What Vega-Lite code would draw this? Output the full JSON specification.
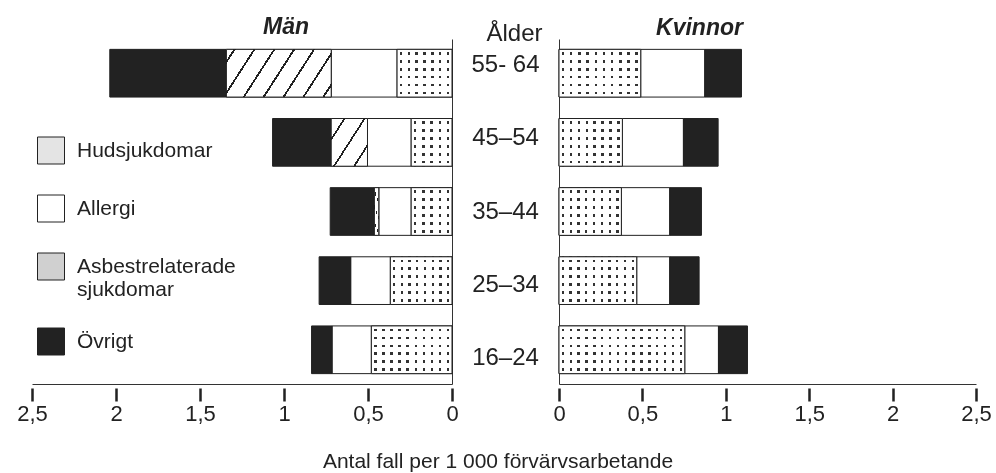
{
  "$schema": "https://vega.github.io/schema/vega-lite/v6.json",
  "background": "white",
  "padding": {"left": 16, "top": 16, "right": 5, "bottom": 5},
  "datasets": {
    "bars": [
      {"kon": "Män", "age": "55-64", "cat": "Hudsjukdomar", "order": 1, "value": 0.327},
      {"kon": "Män", "age": "55-64", "cat": "Allergi", "order": 2, "value": 0.392},
      {"kon": "Män", "age": "55-64", "cat": "Asbestrelaterade sjukdomar", "order": 3, "value": 0.624},
      {"kon": "Män", "age": "55-64", "cat": "Övrigt", "order": 4, "value": 0.694},
      {"kon": "Män", "age": "45-54", "cat": "Hudsjukdomar", "order": 1, "value": 0.243},
      {"kon": "Män", "age": "45-54", "cat": "Allergi", "order": 2, "value": 0.26},
      {"kon": "Män", "age": "45-54", "cat": "Asbestrelaterade sjukdomar", "order": 3, "value": 0.216},
      {"kon": "Män", "age": "45-54", "cat": "Övrigt", "order": 4, "value": 0.349},
      {"kon": "Män", "age": "35-44", "cat": "Hudsjukdomar", "order": 1, "value": 0.243},
      {"kon": "Män", "age": "35-44", "cat": "Allergi", "order": 2, "value": 0.193},
      {"kon": "Män", "age": "35-44", "cat": "Asbestrelaterade sjukdomar", "order": 3, "value": 0.026},
      {"kon": "Män", "age": "35-44", "cat": "Övrigt", "order": 4, "value": 0.263},
      {"kon": "Män", "age": "25-34", "cat": "Hudsjukdomar", "order": 1, "value": 0.367},
      {"kon": "Män", "age": "25-34", "cat": "Allergi", "order": 2, "value": 0.236},
      {"kon": "Män", "age": "25-34", "cat": "Övrigt", "order": 4, "value": 0.188},
      {"kon": "Män", "age": "16-24", "cat": "Hudsjukdomar", "order": 1, "value": 0.48},
      {"kon": "Män", "age": "16-24", "cat": "Allergi", "order": 2, "value": 0.234},
      {"kon": "Män", "age": "16-24", "cat": "Övrigt", "order": 4, "value": 0.122},
      {"kon": "Kvinnor", "age": "55-64", "cat": "Hudsjukdomar", "order": 1, "value": 0.49},
      {"kon": "Kvinnor", "age": "55-64", "cat": "Allergi", "order": 2, "value": 0.384},
      {"kon": "Kvinnor", "age": "55-64", "cat": "Övrigt", "order": 4, "value": 0.22},
      {"kon": "Kvinnor", "age": "45-54", "cat": "Hudsjukdomar", "order": 1, "value": 0.38},
      {"kon": "Kvinnor", "age": "45-54", "cat": "Allergi", "order": 2, "value": 0.366},
      {"kon": "Kvinnor", "age": "45-54", "cat": "Övrigt", "order": 4, "value": 0.208},
      {"kon": "Kvinnor", "age": "35-44", "cat": "Hudsjukdomar", "order": 1, "value": 0.374},
      {"kon": "Kvinnor", "age": "35-44", "cat": "Allergi", "order": 2, "value": 0.29},
      {"kon": "Kvinnor", "age": "35-44", "cat": "Övrigt", "order": 4, "value": 0.19},
      {"kon": "Kvinnor", "age": "25-34", "cat": "Hudsjukdomar", "order": 1, "value": 0.466},
      {"kon": "Kvinnor", "age": "25-34", "cat": "Allergi", "order": 2, "value": 0.198},
      {"kon": "Kvinnor", "age": "25-34", "cat": "Övrigt", "order": 4, "value": 0.176},
      {"kon": "Kvinnor", "age": "16-24", "cat": "Hudsjukdomar", "order": 1, "value": 0.754},
      {"kon": "Kvinnor", "age": "16-24", "cat": "Allergi", "order": 2, "value": 0.202},
      {"kon": "Kvinnor", "age": "16-24", "cat": "Övrigt", "order": 4, "value": 0.174}
    ],
    "ages": [
      {"age": "55-64", "label": "55- 64"},
      {"age": "45-54", "label": "45–54"},
      {"age": "35-44", "label": "35–44"},
      {"age": "25-34", "label": "25–34"},
      {"age": "16-24", "label": "16–24"}
    ]
  },
  "spacing": 0,
  "bounds": "flush",
  "title": {
    "text": "Antal fall per 1 000 förvärvsarbetande",
    "orient": "bottom",
    "anchor": "middle",
    "fontSize": 21,
    "fontWeight": "normal",
    "font": "Liberation Sans",
    "color": "#222",
    "offset": 27,
    "dx": -6
  },
  "resolve": {
    "scale": {"x": "independent", "y": "independent", "fill": "independent"},
    "legend": {"fill": "independent"}
  },
  "hconcat": [
    {
      "width": 420,
      "height": 345,
      "data": {"name": "bars"},
      "title": {"text": "Män", "fontStyle": "italic", "fontWeight": "bold", "fontSize": 23, "font": "Liberation Sans", "color": "#222", "anchor": "middle", "dx": 44, "baseline": "alphabetic", "offset": -18},
      "transform": [
        {"filter": "datum.kon == 'Män'"},
        {"stack": "value", "groupby": ["age"], "sort": [{"field": "order", "order": "ascending"}], "as": ["v0", "v1"]}
      ],
      "encoding": {
        "y": {"field": "age", "type": "nominal", "sort": ["55-64", "45-54", "35-44", "25-34", "16-24"],
              "scale": {"paddingInner": 0.31, "paddingOuter": 0.15},
              "axis": {"orient": "right", "labels": false, "ticks": false, "title": null, "domain": true, "domainColor": "#333", "grid": false}},
        "x": {"field": "v0", "type": "quantitative", "scale": {"domain": [0, 2.5], "reverse": true, "nice": false, "zero": true},
              "axis": {"values": [0, 0.5, 1, 1.5, 2, 2.5], "format": "~g", "labelExpr": "replace(datum.label, '.', ',')", "title": null, "grid": false,
                       "domainColor": "#333", "tickColor": "#222", "tickWidth": 2.5, "tickSize": 17, "tickDash": [0, 4, 13, 100],
                       "labelFontSize": 22, "labelPadding": 2, "labelColor": "#222", "labelFont": "Liberation Sans", "labelFlush": false, "labelOverlap": false}},
        "x2": {"field": "v1"}
      },
      "layer": [
        {
          "mark": {"type": "bar", "stroke": "#222", "strokeWidth": 1},
          "encoding": {
            "fill": {"field": "cat", "type": "nominal",
                     "scale": {"domain": ["Hudsjukdomar", "Allergi", "Asbestrelaterade sjukdomar", "Övrigt"],
                               "range": ["#e4e4e4", "#ffffff", "#d0d0d0", "#222222"]},
                     "legend": {"orient": "none", "legendX": 5, "legendY": 97.5, "title": null, "symbolType": "square", "symbolSize": 729,
                                "symbolStrokeColor": "#222", "symbolStrokeWidth": 1, "labelFontSize": 21, "labelFont": "Liberation Sans", "labelColor": "#222",
                                "labelOffset": 12, "rowPadding": 26, "labelLimit": 0, "padding": 0,
                                "labelExpr": "datum.label == 'Asbestrelaterade sjukdomar' ? ['Asbestrelaterade', 'sjukdomar'] : datum.label"}}
          }
        },
        {
          "transform": [{"filter": "datum.cat == 'Asbestrelaterade sjukdomar' && datum.age == '55-64'"}],
          "mark": {"type": "bar", "stroke": "#222", "strokeWidth": 1,
                   "fill": {"gradient": "linear", "x1": 0, "y1": 0, "x2": 1.19, "y2": 0.348,
                            "stops": [
                              {"offset": 0, "color": "#ffffff"},
                              {"offset": 0.052, "color": "#ffffff"}, {"offset": 0.052, "color": "#222222"}, {"offset": 0.068, "color": "#222222"}, {"offset": 0.068, "color": "#ffffff"},
                              {"offset": 0.199, "color": "#ffffff"}, {"offset": 0.199, "color": "#222222"}, {"offset": 0.215, "color": "#222222"}, {"offset": 0.215, "color": "#ffffff"},
                              {"offset": 0.346, "color": "#ffffff"}, {"offset": 0.346, "color": "#222222"}, {"offset": 0.362, "color": "#222222"}, {"offset": 0.362, "color": "#ffffff"},
                              {"offset": 0.493, "color": "#ffffff"}, {"offset": 0.493, "color": "#222222"}, {"offset": 0.509, "color": "#222222"}, {"offset": 0.509, "color": "#ffffff"},
                              {"offset": 0.640, "color": "#ffffff"}, {"offset": 0.640, "color": "#222222"}, {"offset": 0.656, "color": "#222222"}, {"offset": 0.656, "color": "#ffffff"},
                              {"offset": 0.787, "color": "#ffffff"}, {"offset": 0.787, "color": "#222222"}, {"offset": 0.803, "color": "#222222"}, {"offset": 0.803, "color": "#ffffff"},
                              {"offset": 0.934, "color": "#ffffff"}, {"offset": 0.934, "color": "#222222"}, {"offset": 0.950, "color": "#222222"}, {"offset": 0.950, "color": "#ffffff"},
                              {"offset": 1, "color": "#ffffff"}
                            ]}}
        },
        {
          "transform": [{"filter": "datum.cat == 'Asbestrelaterade sjukdomar' && datum.age != '55-64'"}],
          "mark": {"type": "bar", "stroke": "#222", "strokeWidth": 1,
                   "fill": {"gradient": "linear", "x1": 0, "y1": 0, "x2": 1.0765, "y2": 0.9096,
                            "stops": [
                              {"offset": 0, "color": "#ffffff"},
                              {"offset": 0.185, "color": "#ffffff"}, {"offset": 0.185, "color": "#222222"}, {"offset": 0.215, "color": "#222222"}, {"offset": 0.215, "color": "#ffffff"},
                              {"offset": 0.485, "color": "#ffffff"}, {"offset": 0.485, "color": "#222222"}, {"offset": 0.515, "color": "#222222"}, {"offset": 0.515, "color": "#ffffff"},
                              {"offset": 0.785, "color": "#ffffff"}, {"offset": 0.785, "color": "#222222"}, {"offset": 0.815, "color": "#222222"}, {"offset": 0.815, "color": "#ffffff"},
                              {"offset": 1, "color": "#ffffff"}
                            ]}}
        },
        {
          "transform": [{"filter": "datum.cat == 'Hudsjukdomar' && datum.age == '55-64'"}],
          "mark": {"type": "bar", "stroke": "#222", "strokeWidth": 1,
                   "fill": {"gradient": "linear", "x1": 0, "y1": 0, "x2": 1, "y2": 0,
                            "stops": [
                              {"offset": 0, "color": "#ffffff"},
                              {"offset": 0.049, "color": "#ffffff"}, {"offset": 0.049, "color": "#333333"}, {"offset": 0.093, "color": "#333333"}, {"offset": 0.093, "color": "#ffffff"},
                              {"offset": 0.192, "color": "#ffffff"}, {"offset": 0.192, "color": "#333333"}, {"offset": 0.236, "color": "#333333"}, {"offset": 0.236, "color": "#ffffff"},
                              {"offset": 0.335, "color": "#ffffff"}, {"offset": 0.335, "color": "#333333"}, {"offset": 0.379, "color": "#333333"}, {"offset": 0.379, "color": "#ffffff"},
                              {"offset": 0.478, "color": "#ffffff"}, {"offset": 0.478, "color": "#333333"}, {"offset": 0.522, "color": "#333333"}, {"offset": 0.522, "color": "#ffffff"},
                              {"offset": 0.621, "color": "#ffffff"}, {"offset": 0.621, "color": "#333333"}, {"offset": 0.665, "color": "#333333"}, {"offset": 0.665, "color": "#ffffff"},
                              {"offset": 0.764, "color": "#ffffff"}, {"offset": 0.764, "color": "#333333"}, {"offset": 0.808, "color": "#333333"}, {"offset": 0.808, "color": "#ffffff"},
                              {"offset": 0.907, "color": "#ffffff"}, {"offset": 0.907, "color": "#333333"}, {"offset": 0.951, "color": "#333333"}, {"offset": 0.951, "color": "#ffffff"},
                              {"offset": 1, "color": "#ffffff"}
                            ]}}
        },
        {
          "transform": [{"filter": "datum.cat == 'Hudsjukdomar' && (datum.age == '45-54' || datum.age == '35-44')"}],
          "mark": {"type": "bar", "stroke": "#222", "strokeWidth": 1,
                   "fill": {"gradient": "linear", "x1": 0, "y1": 0, "x2": 1, "y2": 0,
                            "stops": [
                              {"offset": 0, "color": "#ffffff"},
                              {"offset": 0.071, "color": "#ffffff"}, {"offset": 0.071, "color": "#333333"}, {"offset": 0.129, "color": "#333333"}, {"offset": 0.129, "color": "#ffffff"},
                              {"offset": 0.271, "color": "#ffffff"}, {"offset": 0.271, "color": "#333333"}, {"offset": 0.329, "color": "#333333"}, {"offset": 0.329, "color": "#ffffff"},
                              {"offset": 0.471, "color": "#ffffff"}, {"offset": 0.471, "color": "#333333"}, {"offset": 0.529, "color": "#333333"}, {"offset": 0.529, "color": "#ffffff"},
                              {"offset": 0.671, "color": "#ffffff"}, {"offset": 0.671, "color": "#333333"}, {"offset": 0.729, "color": "#333333"}, {"offset": 0.729, "color": "#ffffff"},
                              {"offset": 0.871, "color": "#ffffff"}, {"offset": 0.871, "color": "#333333"}, {"offset": 0.929, "color": "#333333"}, {"offset": 0.929, "color": "#ffffff"},
                              {"offset": 1, "color": "#ffffff"}
                            ]}}
        },
        {
          "transform": [{"filter": "datum.cat == 'Hudsjukdomar' && datum.age == '25-34'"}],
          "mark": {"type": "bar", "stroke": "#222", "strokeWidth": 1,
                   "fill": {"gradient": "linear", "x1": 0, "y1": 0, "x2": 1, "y2": 0,
                            "stops": [
                              {"offset": 0, "color": "#ffffff"},
                              {"offset": 0.044, "color": "#ffffff"}, {"offset": 0.044, "color": "#333333"}, {"offset": 0.081, "color": "#333333"}, {"offset": 0.081, "color": "#ffffff"},
                              {"offset": 0.169, "color": "#ffffff"}, {"offset": 0.169, "color": "#333333"}, {"offset": 0.206, "color": "#333333"}, {"offset": 0.206, "color": "#ffffff"},
                              {"offset": 0.294, "color": "#ffffff"}, {"offset": 0.294, "color": "#333333"}, {"offset": 0.331, "color": "#333333"}, {"offset": 0.331, "color": "#ffffff"},
                              {"offset": 0.419, "color": "#ffffff"}, {"offset": 0.419, "color": "#333333"}, {"offset": 0.456, "color": "#333333"}, {"offset": 0.456, "color": "#ffffff"},
                              {"offset": 0.544, "color": "#ffffff"}, {"offset": 0.544, "color": "#333333"}, {"offset": 0.581, "color": "#333333"}, {"offset": 0.581, "color": "#ffffff"},
                              {"offset": 0.669, "color": "#ffffff"}, {"offset": 0.669, "color": "#333333"}, {"offset": 0.706, "color": "#333333"}, {"offset": 0.706, "color": "#ffffff"},
                              {"offset": 0.794, "color": "#ffffff"}, {"offset": 0.794, "color": "#333333"}, {"offset": 0.831, "color": "#333333"}, {"offset": 0.831, "color": "#ffffff"},
                              {"offset": 0.919, "color": "#ffffff"}, {"offset": 0.919, "color": "#333333"}, {"offset": 0.956, "color": "#333333"}, {"offset": 0.956, "color": "#ffffff"},
                              {"offset": 1, "color": "#ffffff"}
                            ]}}
        },
        {
          "transform": [{"filter": "datum.cat == 'Hudsjukdomar' && datum.age == '16-24'"}],
          "mark": {"type": "bar", "stroke": "#222", "strokeWidth": 1,
                   "fill": {"gradient": "linear", "x1": 0, "y1": 0, "x2": 1, "y2": 0,
                            "stops": [
                              {"offset": 0, "color": "#ffffff"},
                              {"offset": 0.035, "color": "#ffffff"}, {"offset": 0.035, "color": "#333333"}, {"offset": 0.065, "color": "#333333"}, {"offset": 0.065, "color": "#ffffff"},
                              {"offset": 0.135, "color": "#ffffff"}, {"offset": 0.135, "color": "#333333"}, {"offset": 0.165, "color": "#333333"}, {"offset": 0.165, "color": "#ffffff"},
                              {"offset": 0.235, "color": "#ffffff"}, {"offset": 0.235, "color": "#333333"}, {"offset": 0.265, "color": "#333333"}, {"offset": 0.265, "color": "#ffffff"},
                              {"offset": 0.335, "color": "#ffffff"}, {"offset": 0.335, "color": "#333333"}, {"offset": 0.365, "color": "#333333"}, {"offset": 0.365, "color": "#ffffff"},
                              {"offset": 0.435, "color": "#ffffff"}, {"offset": 0.435, "color": "#333333"}, {"offset": 0.465, "color": "#333333"}, {"offset": 0.465, "color": "#ffffff"},
                              {"offset": 0.535, "color": "#ffffff"}, {"offset": 0.535, "color": "#333333"}, {"offset": 0.565, "color": "#333333"}, {"offset": 0.565, "color": "#ffffff"},
                              {"offset": 0.635, "color": "#ffffff"}, {"offset": 0.635, "color": "#333333"}, {"offset": 0.665, "color": "#333333"}, {"offset": 0.665, "color": "#ffffff"},
                              {"offset": 0.735, "color": "#ffffff"}, {"offset": 0.735, "color": "#333333"}, {"offset": 0.765, "color": "#333333"}, {"offset": 0.765, "color": "#ffffff"},
                              {"offset": 0.835, "color": "#ffffff"}, {"offset": 0.835, "color": "#333333"}, {"offset": 0.865, "color": "#333333"}, {"offset": 0.865, "color": "#ffffff"},
                              {"offset": 0.935, "color": "#ffffff"}, {"offset": 0.935, "color": "#333333"}, {"offset": 0.965, "color": "#333333"}, {"offset": 0.965, "color": "#ffffff"},
                              {"offset": 1, "color": "#ffffff"}
                            ]}}
        },
        {
          "transform": [{"filter": "datum.cat == 'Hudsjukdomar'"}],
          "mark": {"type": "bar", "stroke": "#222", "strokeWidth": 1, "blend": "lighten",
                   "fill": {"gradient": "linear", "x1": 0, "y1": 0, "x2": 0, "y2": 1,
                            "stops": [
                              {"offset": 0, "color": "#ffffff"},
                              {"offset": 0.057, "color": "#ffffff"}, {"offset": 0.057, "color": "#333333"}, {"offset": 0.109, "color": "#333333"}, {"offset": 0.109, "color": "#ffffff"},
                              {"offset": 0.224, "color": "#ffffff"}, {"offset": 0.224, "color": "#333333"}, {"offset": 0.276, "color": "#333333"}, {"offset": 0.276, "color": "#ffffff"},
                              {"offset": 0.391, "color": "#ffffff"}, {"offset": 0.391, "color": "#333333"}, {"offset": 0.443, "color": "#333333"}, {"offset": 0.443, "color": "#ffffff"},
                              {"offset": 0.557, "color": "#ffffff"}, {"offset": 0.557, "color": "#333333"}, {"offset": 0.609, "color": "#333333"}, {"offset": 0.609, "color": "#ffffff"},
                              {"offset": 0.724, "color": "#ffffff"}, {"offset": 0.724, "color": "#333333"}, {"offset": 0.776, "color": "#333333"}, {"offset": 0.776, "color": "#ffffff"},
                              {"offset": 0.891, "color": "#ffffff"}, {"offset": 0.891, "color": "#333333"}, {"offset": 0.943, "color": "#333333"}, {"offset": 0.943, "color": "#ffffff"},
                              {"offset": 1, "color": "#ffffff"}
                            ]}}
        }
      ]
    },
    {
      "width": 107,
      "height": 345,
      "data": {"name": "ages"},
      "title": {"text": "Ålder", "fontWeight": "normal", "fontSize": 24, "font": "Liberation Sans", "color": "#222", "anchor": "middle", "dx": 9, "baseline": "alphabetic", "offset": -26},
      "mark": {"type": "text", "fontSize": 24, "font": "Liberation Sans", "color": "#222", "baseline": "middle", "align": "center"},
      "encoding": {
        "y": {"field": "age", "type": "ordinal", "sort": ["55-64", "45-54", "35-44", "25-34", "16-24"], "scale": {"type": "point", "padding": 0.363}, "axis": null},
        "text": {"field": "label"}
      }
    },
    {
      "width": 417,
      "height": 345,
      "data": {"name": "bars"},
      "title": {"text": "Kvinnor", "fontStyle": "italic", "fontWeight": "bold", "fontSize": 23, "font": "Liberation Sans", "color": "#222", "anchor": "middle", "dx": -68, "baseline": "alphabetic", "offset": -19},
      "transform": [
        {"filter": "datum.kon == 'Kvinnor'"},
        {"stack": "value", "groupby": ["age"], "sort": [{"field": "order", "order": "ascending"}], "as": ["v0", "v1"]}
      ],
      "encoding": {
        "y": {"field": "age", "type": "nominal", "sort": ["55-64", "45-54", "35-44", "25-34", "16-24"],
              "scale": {"paddingInner": 0.31, "paddingOuter": 0.15},
              "axis": {"orient": "left", "labels": false, "ticks": false, "title": null, "domain": true, "domainColor": "#333", "grid": false}},
        "x": {"field": "v0", "type": "quantitative", "scale": {"domain": [0, 2.5], "nice": false, "zero": true},
              "axis": {"values": [0, 0.5, 1, 1.5, 2, 2.5], "format": "~g", "labelExpr": "replace(datum.label, '.', ',')", "title": null, "grid": false,
                       "domainColor": "#333", "tickColor": "#222", "tickWidth": 2.5, "tickSize": 17, "tickDash": [0, 4, 13, 100],
                       "labelFontSize": 22, "labelPadding": 2, "labelColor": "#222", "labelFont": "Liberation Sans", "labelFlush": false, "labelOverlap": false}},
        "x2": {"field": "v1"}
      },
      "layer": [
        {
          "mark": {"type": "bar", "stroke": "#222", "strokeWidth": 1},
          "encoding": {
            "fill": {"field": "cat", "type": "nominal",
                     "scale": {"domain": ["Hudsjukdomar", "Allergi", "Asbestrelaterade sjukdomar", "Övrigt"], "range": ["#e4e4e4", "#ffffff", "#d0d0d0", "#222222"]},
                     "legend": null}
          }
        },
        {
          "transform": [{"filter": "datum.cat == 'Hudsjukdomar' && (datum.age == '55-64' || datum.age == '25-34')"}],
          "mark": {"type": "bar", "stroke": "#222", "strokeWidth": 1,
                   "fill": {"gradient": "linear", "x1": 0, "y1": 0, "x2": 1, "y2": 0,
                            "stops": [
                              {"offset": 0, "color": "#ffffff"},
                              {"offset": 0.035, "color": "#ffffff"}, {"offset": 0.035, "color": "#333333"}, {"offset": 0.065, "color": "#333333"}, {"offset": 0.065, "color": "#ffffff"},
                              {"offset": 0.135, "color": "#ffffff"}, {"offset": 0.135, "color": "#333333"}, {"offset": 0.165, "color": "#333333"}, {"offset": 0.165, "color": "#ffffff"},
                              {"offset": 0.235, "color": "#ffffff"}, {"offset": 0.235, "color": "#333333"}, {"offset": 0.265, "color": "#333333"}, {"offset": 0.265, "color": "#ffffff"},
                              {"offset": 0.335, "color": "#ffffff"}, {"offset": 0.335, "color": "#333333"}, {"offset": 0.365, "color": "#333333"}, {"offset": 0.365, "color": "#ffffff"},
                              {"offset": 0.435, "color": "#ffffff"}, {"offset": 0.435, "color": "#333333"}, {"offset": 0.465, "color": "#333333"}, {"offset": 0.465, "color": "#ffffff"},
                              {"offset": 0.535, "color": "#ffffff"}, {"offset": 0.535, "color": "#333333"}, {"offset": 0.565, "color": "#333333"}, {"offset": 0.565, "color": "#ffffff"},
                              {"offset": 0.635, "color": "#ffffff"}, {"offset": 0.635, "color": "#333333"}, {"offset": 0.665, "color": "#333333"}, {"offset": 0.665, "color": "#ffffff"},
                              {"offset": 0.735, "color": "#ffffff"}, {"offset": 0.735, "color": "#333333"}, {"offset": 0.765, "color": "#333333"}, {"offset": 0.765, "color": "#ffffff"},
                              {"offset": 0.835, "color": "#ffffff"}, {"offset": 0.835, "color": "#333333"}, {"offset": 0.865, "color": "#333333"}, {"offset": 0.865, "color": "#ffffff"},
                              {"offset": 0.935, "color": "#ffffff"}, {"offset": 0.935, "color": "#333333"}, {"offset": 0.965, "color": "#333333"}, {"offset": 0.965, "color": "#ffffff"},
                              {"offset": 1, "color": "#ffffff"}
                            ]}}
        },
        {
          "transform": [{"filter": "datum.cat == 'Hudsjukdomar' && (datum.age == '45-54' || datum.age == '35-44')"}],
          "mark": {"type": "bar", "stroke": "#222", "strokeWidth": 1,
                   "fill": {"gradient": "linear", "x1": 0, "y1": 0, "x2": 1, "y2": 0,
                            "stops": [
                              {"offset": 0, "color": "#ffffff"},
                              {"offset": 0.044, "color": "#ffffff"}, {"offset": 0.044, "color": "#333333"}, {"offset": 0.081, "color": "#333333"}, {"offset": 0.081, "color": "#ffffff"},
                              {"offset": 0.169, "color": "#ffffff"}, {"offset": 0.169, "color": "#333333"}, {"offset": 0.206, "color": "#333333"}, {"offset": 0.206, "color": "#ffffff"},
                              {"offset": 0.294, "color": "#ffffff"}, {"offset": 0.294, "color": "#333333"}, {"offset": 0.331, "color": "#333333"}, {"offset": 0.331, "color": "#ffffff"},
                              {"offset": 0.419, "color": "#ffffff"}, {"offset": 0.419, "color": "#333333"}, {"offset": 0.456, "color": "#333333"}, {"offset": 0.456, "color": "#ffffff"},
                              {"offset": 0.544, "color": "#ffffff"}, {"offset": 0.544, "color": "#333333"}, {"offset": 0.581, "color": "#333333"}, {"offset": 0.581, "color": "#ffffff"},
                              {"offset": 0.669, "color": "#ffffff"}, {"offset": 0.669, "color": "#333333"}, {"offset": 0.706, "color": "#333333"}, {"offset": 0.706, "color": "#ffffff"},
                              {"offset": 0.794, "color": "#ffffff"}, {"offset": 0.794, "color": "#333333"}, {"offset": 0.831, "color": "#333333"}, {"offset": 0.831, "color": "#ffffff"},
                              {"offset": 0.919, "color": "#ffffff"}, {"offset": 0.919, "color": "#333333"}, {"offset": 0.956, "color": "#333333"}, {"offset": 0.956, "color": "#ffffff"},
                              {"offset": 1, "color": "#ffffff"}
                            ]}}
        },
        {
          "transform": [{"filter": "datum.cat == 'Hudsjukdomar' && datum.age == '16-24'"}],
          "mark": {"type": "bar", "stroke": "#222", "strokeWidth": 1,
                   "fill": {"gradient": "linear", "x1": 0, "y1": 0, "x2": 1, "y2": 0,
                            "stops": [
                              {"offset": 0, "color": "#ffffff"},
                              {"offset": 0.022, "color": "#ffffff"}, {"offset": 0.022, "color": "#333333"}, {"offset": 0.041, "color": "#333333"}, {"offset": 0.041, "color": "#ffffff"},
                              {"offset": 0.084, "color": "#ffffff"}, {"offset": 0.084, "color": "#333333"}, {"offset": 0.103, "color": "#333333"}, {"offset": 0.103, "color": "#ffffff"},
                              {"offset": 0.147, "color": "#ffffff"}, {"offset": 0.147, "color": "#333333"}, {"offset": 0.166, "color": "#333333"}, {"offset": 0.166, "color": "#ffffff"},
                              {"offset": 0.209, "color": "#ffffff"}, {"offset": 0.209, "color": "#333333"}, {"offset": 0.228, "color": "#333333"}, {"offset": 0.228, "color": "#ffffff"},
                              {"offset": 0.272, "color": "#ffffff"}, {"offset": 0.272, "color": "#333333"}, {"offset": 0.291, "color": "#333333"}, {"offset": 0.291, "color": "#ffffff"},
                              {"offset": 0.334, "color": "#ffffff"}, {"offset": 0.334, "color": "#333333"}, {"offset": 0.353, "color": "#333333"}, {"offset": 0.353, "color": "#ffffff"},
                              {"offset": 0.397, "color": "#ffffff"}, {"offset": 0.397, "color": "#333333"}, {"offset": 0.416, "color": "#333333"}, {"offset": 0.416, "color": "#ffffff"},
                              {"offset": 0.459, "color": "#ffffff"}, {"offset": 0.459, "color": "#333333"}, {"offset": 0.478, "color": "#333333"}, {"offset": 0.478, "color": "#ffffff"},
                              {"offset": 0.522, "color": "#ffffff"}, {"offset": 0.522, "color": "#333333"}, {"offset": 0.541, "color": "#333333"}, {"offset": 0.541, "color": "#ffffff"},
                              {"offset": 0.584, "color": "#ffffff"}, {"offset": 0.584, "color": "#333333"}, {"offset": 0.603, "color": "#333333"}, {"offset": 0.603, "color": "#ffffff"},
                              {"offset": 0.647, "color": "#ffffff"}, {"offset": 0.647, "color": "#333333"}, {"offset": 0.666, "color": "#333333"}, {"offset": 0.666, "color": "#ffffff"},
                              {"offset": 0.709, "color": "#ffffff"}, {"offset": 0.709, "color": "#333333"}, {"offset": 0.728, "color": "#333333"}, {"offset": 0.728, "color": "#ffffff"},
                              {"offset": 0.772, "color": "#ffffff"}, {"offset": 0.772, "color": "#333333"}, {"offset": 0.791, "color": "#333333"}, {"offset": 0.791, "color": "#ffffff"},
                              {"offset": 0.834, "color": "#ffffff"}, {"offset": 0.834, "color": "#333333"}, {"offset": 0.853, "color": "#333333"}, {"offset": 0.853, "color": "#ffffff"},
                              {"offset": 0.897, "color": "#ffffff"}, {"offset": 0.897, "color": "#333333"}, {"offset": 0.916, "color": "#333333"}, {"offset": 0.916, "color": "#ffffff"},
                              {"offset": 0.959, "color": "#ffffff"}, {"offset": 0.959, "color": "#333333"}, {"offset": 0.978, "color": "#333333"}, {"offset": 0.978, "color": "#ffffff"},
                              {"offset": 1, "color": "#ffffff"}
                            ]}}
        },
        {
          "transform": [{"filter": "datum.cat == 'Hudsjukdomar'"}],
          "mark": {"type": "bar", "stroke": "#222", "strokeWidth": 1, "blend": "lighten",
                   "fill": {"gradient": "linear", "x1": 0, "y1": 0, "x2": 0, "y2": 1,
                            "stops": [
                              {"offset": 0, "color": "#ffffff"},
                              {"offset": 0.057, "color": "#ffffff"}, {"offset": 0.057, "color": "#333333"}, {"offset": 0.109, "color": "#333333"}, {"offset": 0.109, "color": "#ffffff"},
                              {"offset": 0.224, "color": "#ffffff"}, {"offset": 0.224, "color": "#333333"}, {"offset": 0.276, "color": "#333333"}, {"offset": 0.276, "color": "#ffffff"},
                              {"offset": 0.391, "color": "#ffffff"}, {"offset": 0.391, "color": "#333333"}, {"offset": 0.443, "color": "#333333"}, {"offset": 0.443, "color": "#ffffff"},
                              {"offset": 0.557, "color": "#ffffff"}, {"offset": 0.557, "color": "#333333"}, {"offset": 0.609, "color": "#333333"}, {"offset": 0.609, "color": "#ffffff"},
                              {"offset": 0.724, "color": "#ffffff"}, {"offset": 0.724, "color": "#333333"}, {"offset": 0.776, "color": "#333333"}, {"offset": 0.776, "color": "#ffffff"},
                              {"offset": 0.891, "color": "#ffffff"}, {"offset": 0.891, "color": "#333333"}, {"offset": 0.943, "color": "#333333"}, {"offset": 0.943, "color": "#ffffff"},
                              {"offset": 1, "color": "#ffffff"}
                            ]}}
        }
      ]
    }
  ],
  "config": {
    "view": {"stroke": null},
    "font": "Liberation Sans"
  }
}
